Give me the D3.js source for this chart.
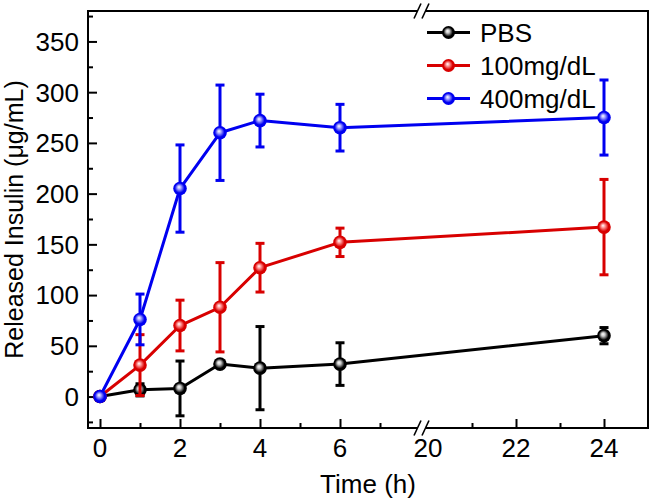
<!DOCTYPE html>
<html>
<head>
<meta charset="utf-8">
<script src="https://cdn.jsdelivr.net/npm/d3@7/dist/d3.min.js"></script>
<style>
  html, body { margin: 0; padding: 0; background: #fff; }
  svg { display: block; }
  text { font-family: "Liberation Sans", Arial, sans-serif; fill: #000; }
</style>
</head>
<body>
<svg id="chart" width="652" height="503"></svg>
<script>
// ---- data ----
const times = [0, 1, 2, 3, 4, 6, 24];
const seriesNames = ["PBS", "100mg/dL", "400mg/dL"];
const pbsValues = [0, 6.6, 8, 32, 28, 32, 60];
const pbsErrors = [0, 6, 27, 3, 41, 21, 8];
const mg100Values = [0, 31, 70, 88, 127, 152, 167];
const mg100Errors = [0, 30, 25, 44, 24, 14, 47];
const mg400Values = [0, 76, 205, 260, 272, 265, 275];
const mg400Errors = [0, 25, 43, 47, 26, 23, 37];
const xTicksLeft = [0, 2, 4, 6];
const xMinorLeft = [1, 3, 5, 7];
const xTicksRight = [20, 22, 24];
const xMinorRight = [21, 23];
const yTicks = [0, 50, 100, 150, 200, 250, 300, 350];
const xTitle = "Time (h)";
const yTitle = "Released Insulin (\u03BCg/mL)";

const colors = ["#000000", "#d80000", "#0000f0"];
const lightColors = ["#c8c8c8", "#ff9a9a", "#a8a8ff"];
const seriesValues = [pbsValues, mg100Values, mg400Values];
const seriesErrors = [pbsErrors, mg100Errors, mg400Errors];

// ---- layout ----
const L = 88, R = 648, T = 11, B = 428;
const breakLeft = 420, breakRight = 428;

const svg = d3.select("#chart");

const y = d3.scaleLinear().domain([-31, 380]).range([B, T]);
const xA = d3.scaleLinear().domain([-0.3, 8]).range([L, breakLeft]);
const xB = d3.scaleLinear().domain([20, 25]).range([breakRight, R]);
const x = v => (v <= 8 ? xA(v) : xB(v));

// gradients
const defs = svg.append("defs");
colors.forEach((c, i) => {
  const g = defs.append("radialGradient")
    .attr("id", "grad" + i)
    .attr("cx", "50%").attr("cy", "50%").attr("r", "55%")
    .attr("fx", "42%").attr("fy", "38%");
  g.append("stop").attr("offset", "0%").attr("stop-color", "#ffffff");
  g.append("stop").attr("offset", "25%").attr("stop-color", lightColors[i]);
  g.append("stop").attr("offset", "65%").attr("stop-color", c);
  g.append("stop").attr("offset", "100%").attr("stop-color", c);
});

// ---- axes frame ----
svg.append("rect")
  .attr("x", L).attr("y", T).attr("width", R - L).attr("height", B - T)
  .attr("fill", "none").attr("stroke", "#000").attr("stroke-width", 2);

// y ticks (inward)
const yAxisG = svg.append("g").attr("transform", `translate(${L},0)`)
  .call(d3.axisRight(y).tickValues(yTicks).tickSize(9).tickFormat(""));
yAxisG.select(".domain").remove();
yAxisG.selectAll("line").attr("stroke", "#000").attr("stroke-width", 2);
const yMinor = d3.range(-25, 380, 25).filter(v => v % 50 !== 0);
const yMinorG = svg.append("g").attr("transform", `translate(${L},0)`)
  .call(d3.axisRight(y).tickValues(yMinor).tickSize(5).tickFormat(""));
yMinorG.select(".domain").remove();
yMinorG.selectAll("line").attr("stroke", "#000").attr("stroke-width", 2);

// y labels
svg.append("g").selectAll("text").data(yTicks).join("text")
  .attr("x", 79).attr("y", d => y(d)).attr("dy", "0.36em")
  .attr("text-anchor", "end").attr("font-size", 26)
  .text(d => d);

// x ticks (inward)
function xTickGroup(scale, vals, size) {
  const g = svg.append("g").attr("transform", `translate(0,${B})`)
    .call(d3.axisTop(scale).tickValues(vals).tickSize(size).tickFormat(""));
  g.select(".domain").remove();
  g.selectAll("line").attr("stroke", "#000").attr("stroke-width", 2);
}
xTickGroup(xA, xTicksLeft, 9);
xTickGroup(xA, xMinorLeft, 5);
xTickGroup(xB, xTicksRight.filter(v => v !== 20), 9);
xTickGroup(xB, xMinorRight, 5);

// x labels
svg.append("g").selectAll("text").data(xTicksLeft.concat(xTicksRight)).join("text")
  .attr("x", d => x(d)).attr("y", 457)
  .attr("text-anchor", "middle").attr("font-size", 26)
  .text(d => d);

// axis titles
svg.append("text").attr("x", (L + R) / 2).attr("y", 493)
  .attr("text-anchor", "middle").attr("font-size", 26).text(xTitle);
svg.append("text")
  .attr("transform", `translate(23,${(T + B) / 2}) rotate(-90)`)
  .attr("text-anchor", "middle").attr("font-size", 25).text(yTitle);

// break marks
[T, B].forEach(yy => {
  const g = svg.append("g");
  g.append("rect").attr("x", 417.5).attr("y", yy - 2.5).attr("width", 8).attr("height", 5).attr("fill", "#fff");
  [414, 422].forEach(x0 => {
    g.append("line")
      .attr("x1", x0).attr("y1", yy + 7.5)
      .attr("x2", x0 + 7).attr("y2", yy - 7.5)
      .attr("stroke", "#000").attr("stroke-width", 1.6);
  });
});

// ---- series ----
const line = d3.line().x(d => x(d.t)).y(d => y(d.v));
seriesValues.forEach((vals, si) => {
  const data = times.map((t, i) => ({ t, v: vals[i], e: seriesErrors[si][i] }));
  const g = svg.append("g");
  const eb = data.filter(d => d.e > 0);
  g.selectAll("line.err").data(eb).join("line").attr("class", "err")
    .attr("x1", d => x(d.t)).attr("x2", d => x(d.t))
    .attr("y1", d => y(d.v - d.e)).attr("y2", d => y(d.v + d.e))
    .attr("stroke", colors[si]).attr("stroke-width", 3);
  ["top", "bot"].forEach(k => {
    g.selectAll("line.cap" + k).data(eb).join("line").attr("class", "cap" + k)
      .attr("x1", d => x(d.t) - 4.5).attr("x2", d => x(d.t) + 4.5)
      .attr("y1", d => y(k === "top" ? d.v + d.e : d.v - d.e))
      .attr("y2", d => y(k === "top" ? d.v + d.e : d.v - d.e))
      .attr("stroke", colors[si]).attr("stroke-width", 3);
  });
  g.append("path").datum(data).attr("d", line)
    .attr("fill", "none").attr("stroke", colors[si]).attr("stroke-width", 3)
    .attr("stroke-linejoin", "round");
  g.selectAll("circle").data(data).join("circle")
    .attr("cx", d => x(d.t)).attr("cy", d => y(d.v)).attr("r", 6.8)
    .attr("fill", `url(#grad${si})`);
});

// ---- legend ----
const legend = svg.append("g");
seriesNames.forEach((name, i) => {
  const ly = 32.5 + i * 33;
  legend.append("line").attr("x1", 427).attr("x2", 470).attr("y1", ly).attr("y2", ly)
    .attr("stroke", colors[i]).attr("stroke-width", 3);
  legend.append("circle").attr("cx", 448.5).attr("cy", ly).attr("r", 6.5)
    .attr("fill", `url(#grad${i})`);
  legend.append("text").attr("x", 480).attr("y", ly + 9.5)
    .attr("font-size", 26).text(name);
});
</script>
</body>
</html>
